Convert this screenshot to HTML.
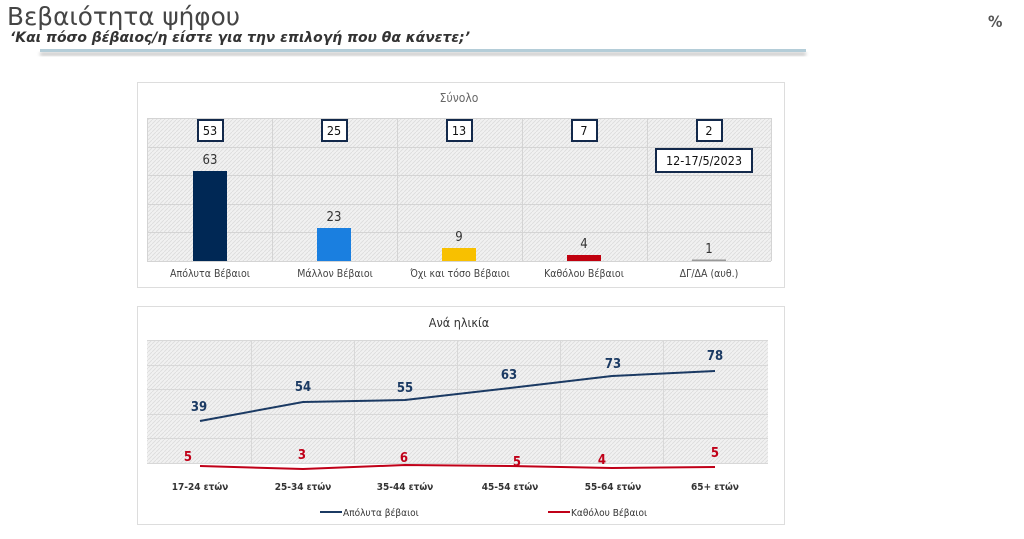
<!DOCTYPE html>
<html><head><meta charset="utf-8"><style>
body{margin:0;width:1024px;height:535px;background:#fff;overflow:hidden;font-family:"DejaVu Sans","Liberation Sans",sans-serif;}
</style></head><body>
<svg width="1024" height="535" xmlns="http://www.w3.org/2000/svg" font-family="DejaVu Sans Condensed, DejaVu Sans, Liberation Sans, sans-serif">
<defs>
<pattern id="h" width="4" height="4" patternUnits="userSpaceOnUse">
<rect width="4" height="4" fill="#f1f1f1"/><path d="M0,4 L4,0" stroke="#dcdcdc" stroke-width="0.8"/>
</pattern>
<filter id="sh"><feGaussianBlur stdDeviation="1.5"/></filter>
</defs>
<text x="7" y="25" font-size="25" fill="#454545" textLength="233" lengthAdjust="spacingAndGlyphs" font-family="DejaVu Sans Condensed, sans-serif">Βεβαιότητα ψήφου</text>
<text x="10" y="42" font-size="14" fill="#333" font-style="italic" font-weight="bold" textLength="460" lengthAdjust="spacingAndGlyphs" font-family="DejaVu Sans Condensed, sans-serif">‘Και πόσο βέβαιος/η είστε για την επιλογή που θα κάνετε;’</text>
<rect x="40" y="52" width="766" height="4" fill="#ccc" filter="url(#sh)"/>
<rect x="40" y="49" width="766" height="3" fill="#b4cdd8"/>
<text x="988" y="27" font-size="16" font-weight="bold" fill="#555">%</text>

<!-- top chart -->
<rect x="137.5" y="82.5" width="647" height="205" fill="#fff" stroke="#ddd"/>
<text x="459" y="102" font-size="12" fill="#666" text-anchor="middle">Σύνολο</text>
<rect x="147" y="118" width="624" height="143" fill="url(#h)"/>
<g stroke="#d4d4d4" stroke-width="1">
<line x1="147" y1="118.5" x2="771" y2="118.5"/><line x1="147" y1="147.5" x2="771" y2="147.5"/><line x1="147" y1="175.5" x2="771" y2="175.5"/><line x1="147" y1="204.5" x2="771" y2="204.5"/><line x1="147" y1="232.5" x2="771" y2="232.5"/><line x1="147" y1="261.5" x2="771" y2="261.5"/>
<line x1="147.5" y1="118" x2="147.5" y2="261"/><line x1="272.5" y1="118" x2="272.5" y2="261"/><line x1="397.5" y1="118" x2="397.5" y2="261"/><line x1="522.5" y1="118" x2="522.5" y2="261"/><line x1="647.5" y1="118" x2="647.5" y2="261"/><line x1="771.5" y1="118" x2="771.5" y2="261"/>
</g>
<rect x="193" y="171" width="34" height="90" fill="#002855"/>
<rect x="317" y="228" width="34" height="33" fill="#1a7fe0"/>
<rect x="442" y="248" width="34" height="13" fill="#f8c000"/>
<rect x="567" y="255" width="34" height="6" fill="#c0000e"/>
<rect x="692" y="259.5" width="34" height="1.5" fill="#999"/>
<g font-size="13" fill="#333" text-anchor="middle">
<text x="210" y="164">63</text><text x="334" y="221">23</text><text x="459" y="241">9</text><text x="584" y="248">4</text><text x="709" y="253">1</text>
</g>
<g fill="#fff" stroke="#13294b" stroke-width="2">
<rect x="198" y="120" width="25" height="21"/><rect x="322" y="120" width="25" height="21"/><rect x="447" y="120" width="25" height="21"/><rect x="572" y="120" width="25" height="21"/><rect x="697" y="120" width="25" height="21"/>
<rect x="656" y="149" width="96" height="23"/>
</g>
<g font-size="12.5" fill="#111" text-anchor="middle">
<text x="210" y="135">53</text><text x="334" y="135">25</text><text x="459" y="135">13</text><text x="584" y="135">7</text><text x="709" y="135">2</text>
<text x="704" y="165">12-17/5/2023</text>
</g>
<g font-size="10.5" fill="#444" text-anchor="middle">
<text x="210" y="277">Απόλυτα Βέβαιοι</text><text x="335" y="277">Μάλλον Βέβαιοι</text><text x="460" y="277">Όχι και τόσο Βέβαιοι</text><text x="584" y="277">Καθόλου Βέβαιοι</text><text x="709" y="277">ΔΓ/ΔΑ (αυθ.)</text>
</g>

<!-- bottom chart -->
<rect x="137.5" y="306.5" width="647" height="218" fill="#fff" stroke="#ddd"/>
<text x="459" y="327" font-size="12.5" fill="#333" text-anchor="middle">Ανά ηλικία</text>
<rect x="147" y="340" width="621" height="124" fill="url(#h)"/>
<g stroke="#d8d8d8" stroke-width="1">
<line x1="147" y1="340.5" x2="768" y2="340.5"/><line x1="147" y1="365.5" x2="768" y2="365.5"/><line x1="147" y1="389.5" x2="768" y2="389.5"/><line x1="147" y1="414.5" x2="768" y2="414.5"/><line x1="147" y1="438.5" x2="768" y2="438.5"/><line x1="147" y1="463.5" x2="768" y2="463.5"/>
<line x1="251.5" y1="340" x2="251.5" y2="463"/><line x1="354.5" y1="340" x2="354.5" y2="463"/><line x1="457.5" y1="340" x2="457.5" y2="463"/><line x1="560.5" y1="340" x2="560.5" y2="463"/><line x1="663.5" y1="340" x2="663.5" y2="463"/>
</g>
<polyline points="200,421 303,402 405,400 510,388 612,376 715,371" fill="none" stroke="#1b3a63" stroke-width="2"/>
<polyline points="200,466 303,469 405,465 510,466 612,468 715,467" fill="none" stroke="#c00018" stroke-width="2"/>
<g font-size="13" fill="#1b3a63" text-anchor="middle" font-weight="bold">
<text x="199" y="411">39</text><text x="303" y="391">54</text><text x="405" y="392">55</text><text x="509" y="379">63</text><text x="613" y="368">73</text><text x="715" y="360">78</text>
</g>
<g font-size="13" fill="#c00018" text-anchor="middle" font-weight="bold">
<text x="188" y="461">5</text><text x="302" y="459">3</text><text x="404" y="462">6</text><text x="517" y="466">5</text><text x="602" y="464">4</text><text x="715" y="457">5</text>
</g>
<g font-size="10" fill="#333" text-anchor="middle" font-weight="bold">
<text x="200" y="490">17-24 ετών</text><text x="303" y="490">25-34 ετών</text><text x="405" y="490">35-44 ετών</text><text x="510" y="490">45-54 ετών</text><text x="613" y="490">55-64 ετών</text><text x="715" y="490">65+ ετών</text>
</g>
<line x1="320" y1="512" x2="342" y2="512" stroke="#1b3a63" stroke-width="2"/>
<text x="343" y="516" font-size="10" fill="#333">Απόλυτα βέβαιοι</text>
<line x1="548" y1="512" x2="570" y2="512" stroke="#c00018" stroke-width="2"/>
<text x="571" y="516" font-size="10" fill="#333">Καθόλου Βέβαιοι</text>
</svg>
</body></html>
